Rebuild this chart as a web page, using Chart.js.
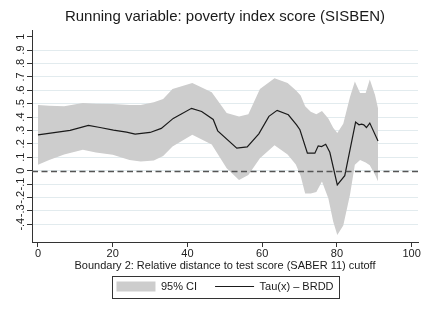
<!DOCTYPE html>
<html>
<head>
<meta charset="utf-8">
<script src="https://cdn.jsdelivr.net/npm/chart.js@4"></script>
<style>
  body { margin: 0; background: #fff; }
  canvas { display: block; }
</style>
</head>
<body>
<canvas id="rddChart" width="430" height="313"></canvas>
<script>
// 95% confidence band
const ciX = [0, 3, 7, 12, 15.5, 20, 24.5, 27.5, 31, 33.5, 36, 41.3, 46.5, 50.5, 53.8, 56.3, 59.4, 63.3, 66.8, 69, 70.3, 71.5, 73, 74.5, 76, 77.7, 79, 80.1, 81.7, 83.5, 84.8, 86.2, 87.7, 88.8, 90.2, 91];
const ciUpper = [0.49, 0.485, 0.48, 0.505, 0.50, 0.497, 0.49, 0.49, 0.51, 0.535, 0.61, 0.655, 0.585, 0.43, 0.405, 0.42, 0.61, 0.69, 0.655, 0.60, 0.56, 0.48, 0.44, 0.42, 0.445, 0.39, 0.32, 0.28, 0.35, 0.55, 0.665, 0.58, 0.58, 0.68, 0.565, 0.465];
const ciLower = [0.043, 0.08, 0.12, 0.155, 0.135, 0.118, 0.08, 0.068, 0.075, 0.11, 0.18, 0.267, 0.195, 0.018, -0.07, -0.032, 0.093, 0.19, 0.12, 0.045, -0.04, -0.17, -0.17, -0.16, -0.082, -0.207, -0.38, -0.48, -0.41, -0.18, 0.043, 0.08, 0.06, 0.04, -0.03, -0.08];

// point estimate Tau(x)
const tauX = [0, 8.6, 13.5, 16.6, 20.2, 23.7, 26, 30, 33, 36.2, 41.1, 43.8, 46.9, 48.1, 53.2, 56, 59.1, 61.8, 64, 67, 69.2, 70.1, 72.1, 74.1, 75, 75.9, 77, 78.1, 80.1, 82.1, 85, 85.9, 86.6, 87.2, 87.9, 88.8, 91];
const tauY = [0.267, 0.30, 0.337, 0.322, 0.303, 0.288, 0.272, 0.285, 0.315, 0.39, 0.465, 0.442, 0.382, 0.297, 0.168, 0.177, 0.275, 0.405, 0.45, 0.417, 0.342, 0.305, 0.13, 0.13, 0.185, 0.18, 0.197, 0.137, -0.107, -0.038, 0.362, 0.342, 0.347, 0.342, 0.322, 0.355, 0.222];

const xTicks = [0, 20, 40, 60, 80, 100];
const yTicks = [-0.4, -0.3, -0.2, -0.1, 0, 0.1, 0.2, 0.3, 0.4, 0.5, 0.6, 0.7, 0.8, 0.9, 1];

const FONT = "'Liberation Sans', Arial, sans-serif";
const bandGray = '#cdcdcd';
const axisColor = '#333';

const toPts = (xs, ys) => xs.map((x, i) => ({ x: x, y: ys[i] }));

// dashed reference line at zero + frame around legend
const extras = {
    id: 'extras',
    afterDatasetsDraw(chart) {
        const { ctx, chartArea } = chart;
        const y0 = Math.round(chart.scales.y.getPixelForValue(0)) + 0.5;
        ctx.save();
        ctx.strokeStyle = '#555';
        ctx.lineWidth = 1.3;
        ctx.setLineDash([6, 3.5]);
        ctx.beginPath();
        ctx.moveTo(chartArea.left, y0);
        ctx.lineTo(chartArea.right + 2, y0);
        ctx.stroke();
        ctx.restore();
    },
    afterDraw(chart) {
        const boxes = chart.legend.legendHitBoxes;
        if (!boxes || !boxes.length) return;
        const first = boxes[0], last = boxes[boxes.length - 1];
        const left = Math.round(first.left - 4) + 0.5;
        const right = Math.round(last.left + last.width + 5) + 0.5;
        const top = Math.round(first.top - 5.5) + 0.5;
        const ctx = chart.ctx;
        ctx.save();
        ctx.strokeStyle = '#333';
        ctx.lineWidth = 1;
        ctx.strokeRect(left, top, right - left, 22);
        ctx.restore();
    }
};

const ctx = document.getElementById('rddChart').getContext('2d');
const rddChart = new Chart(ctx, {
    type: 'line',
    data: {
        datasets: [{
            label: '95% CI',
            data: toPts(ciX, ciUpper),
            backgroundColor: bandGray,
            borderColor: bandGray,
            borderWidth: 0,
            pointRadius: 0,
            pointStyle: 'rect',
            fill: '+1',
            tension: 0
        }, {
            label: 'lower',
            data: toPts(ciX, ciLower),
            backgroundColor: bandGray,
            borderColor: bandGray,
            borderWidth: 0,
            pointRadius: 0,
            fill: false,
            tension: 0
        }, {
            label: 'Tau(x) \u2013 BRDD',
            data: toPts(tauX, tauY),
            borderColor: '#1a1a1a',
            backgroundColor: '#1a1a1a',
            borderWidth: 1.2,
            pointRadius: 0,
            pointStyle: 'line',
            fill: false,
            tension: 0,
            order: -1
        }]
    },
    options: {
        responsive: false,
        animation: false,
        devicePixelRatio: 1,
        layout: { padding: { top: 8, right: 12, bottom: 11, left: 0 } },
        plugins: {
            title: {
                display: true,
                text: 'Running variable: poverty index score (SISBEN)',
                fullSize: false,
                color: '#1a1a1a',
                font: { family: FONT, size: 15, weight: 'normal' },
                padding: { top: 0, bottom: 4 }
            },
            legend: {
                position: 'bottom',
                fullSize: false,
                labels: {
                    usePointStyle: true,
                    pointStyleWidth: 39,
                    boxHeight: 10,
                    padding: 18,
                    color: '#1a1a1a',
                    font: { family: FONT, size: 11 },
                    filter: (item) => item.text !== 'lower',
                    sort: (a, b) => a.datasetIndex - b.datasetIndex
                }
            },
            tooltip: { enabled: false }
        },
        scales: {
            x: {
                type: 'linear',
                min: -1.6,
                max: 101.7,
                afterBuildTicks: (scale) => { scale.ticks = xTicks.map(v => ({ value: v })); },
                afterFit: (scale) => { scale.height = 21; },
                grid: { drawOnChartArea: false, drawTicks: true, tickLength: 5, tickColor: axisColor },
                border: { color: axisColor, width: 1 },
                ticks: {
                    padding: 0,
                    autoSkip: false,
                    maxRotation: 0,
                    color: '#222',
                    font: { family: FONT, size: 11 }
                },
                title: {
                    display: true,
                    text: 'Boundary 2: Relative distance to test score (SABER 11) cutoff',
                    color: '#1a1a1a',
                    font: { family: FONT, size: 11 },
                    padding: { top: 0, bottom: -9.5 }
                }
            },
            y: {
                type: 'linear',
                min: -0.533,
                max: 1.05,
                afterBuildTicks: (scale) => { scale.ticks = yTicks.map(v => ({ value: v })); },
                afterFit: (scale) => { scale.width = 32; },
                grid: {
                    color: (c) => (c.tick && c.tick.value === 1) ? 'rgba(0,0,0,0)' : '#e2ebee',
                    lineWidth: 1,
                    drawTicks: true,
                    tickLength: 5,
                    tickColor: axisColor
                },
                border: { color: axisColor, width: 1 },
                ticks: {
                    minRotation: 90,
                    maxRotation: 90,
                    crossAlign: 'center',
                    autoSkip: false,
                    padding: 0,
                    color: '#222',
                    font: { family: FONT, size: 11 },
                    callback: (v) => v === 0 ? '0' : String(v).replace('0.', '.')
                }
            }
        }
    },
    plugins: [extras]
});
</script>
</body>
</html>
